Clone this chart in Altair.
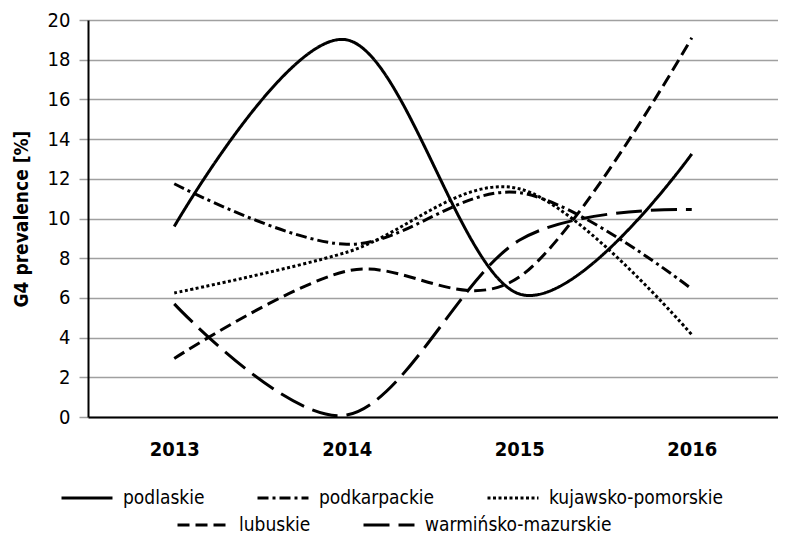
import altair as alt
import pandas as pd

years = ["2013", "2014", "2015", "2016"]
series_names = ["podlaskie", "podkarpackie", "kujawsko-pomorskie", "lubuskie", "warmińsko-mazurskie"]
podlaskie = [9.6, 19.0, 6.2, 13.25]
podkarpackie = [11.75, 8.7, 11.3, 6.45]
kujawsko_pomorskie = [6.25, 8.3, 11.5, 4.15]
lubuskie = [2.95, 7.35, 7.05, 19.1]
warminsko_mazurskie = [5.7, 0.1, 8.9, 10.45]
y_ticks = list(range(0, 21, 2))

values = [podlaskie, podkarpackie, kujawsko_pomorskie, lubuskie, warminsko_mazurskie]
rows = []
for name, vals in zip(series_names, values):
    for yr, v in zip(years, vals):
        rows.append({"year": yr, "value": v, "series": name})
df = pd.DataFrame(rows)

dashes = {
    "podlaskie": [1, 0],
    "podkarpackie": [11, 4, 3, 4],
    "kujawsko-pomorskie": [3, 2.5],
    "lubuskie": [12, 6],
    "warmińsko-mazurskie": [26, 9],
}

FONT = "DejaVu Sans Condensed, Liberation Sans Narrow, Roboto, sans-serif"

x_enc = alt.X("year:O", scale=alt.Scale(type="point", padding=0.5), sort=years,
              axis=alt.Axis(title=None, labelAngle=0, ticks=False, labelPadding=22,
                            labelFont=FONT, labelFontSize=20, labelFontWeight="bold",
                            labelColor="black", domainColor="black", domainWidth=2, grid=False))
y_enc = alt.Y("value:Q", scale=alt.Scale(domain=[0, 20], nice=False),
              axis=alt.Axis(title="G4 prevalence [%]", values=y_ticks, tickSize=9,
                            tickColor="#a0a0a0", tickWidth=1.5, labelPadding=9,
                            labelFont=FONT, labelFontSize=20, labelColor="black",
                            titleFont=FONT, titleFontSize=19, titleFontWeight="bold",
                            titleColor="black", titleX=-57, titleBaseline="bottom",
                            domainColor="black", domainWidth=2,
                            gridColor="#a0a0a0", gridWidth=1.5))


def layer(names, lx, ly):
    sub = df[df["series"].isin(names)]
    return alt.Chart(sub).mark_line(interpolate="cardinal", color="black", strokeWidth=3).encode(
        x=x_enc,
        y=y_enc,
        strokeDash=alt.StrokeDash(
            "series:N",
            sort=names,
            scale=alt.Scale(domain=names, range=[dashes[n] for n in names]),
            legend=alt.Legend(title=None, orient="none", legendX=lx, legendY=ly,
                              direction="horizontal", symbolType="stroke", symbolSize=2600,
                              symbolStrokeWidth=3, symbolStrokeColor="black",
                              labelFont=FONT, labelFontSize=19, labelColor="black",
                              labelOffset=9, columnPadding=46, labelLimit=400),
        ),
    )


l1 = layer(series_names[:3], -28, 451)
l2 = layer(series_names[3:], 88, 478)

chart = alt.layer(l1, l2).resolve_scale(strokeDash="independent").properties(
    width=690, height=397,
    padding={"left": 80, "top": 12, "right": 0, "bottom": 119},
    autosize=alt.AutoSizeParams(type="none"),
).configure_view(stroke="black", strokeWidth=2).configure(background="white")

chart.save("out.html", embed_options={"renderer": "svg", "actions": False})
